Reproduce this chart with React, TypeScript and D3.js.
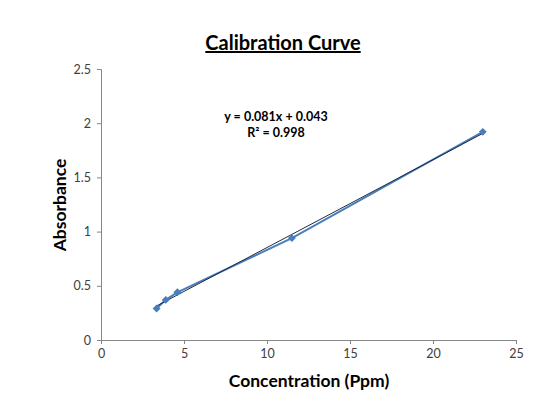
import React, { useEffect, useRef } from 'react';
import * as d3 from 'd3';

const concentration = [3.35, 3.9, 4.6, 11.5, 23.0];
const absorbance = [0.29, 0.37, 0.44, 0.94, 1.92];
const xTicks = [0, 5, 10, 15, 20, 25];
const yTicks = [0, 0.5, 1, 1.5, 2, 2.5];
const slope = 0.081;
const intercept = 0.043;

const App: React.FC = () => {
  const ref = useRef<SVGSVGElement>(null);

  useEffect(() => {
    if (!ref.current) return;
    const svg = d3.select(ref.current);
    svg.selectAll('*').remove();

    const left = 101;
    const right = 516;
    const top = 69;
    const bottom = 340;
    const font = 'Lato, "Open Sans", sans-serif';

    const x = d3.scaleLinear().domain([0, 25]).range([left, right]);
    const y = d3.scaleLinear().domain([0, 2.5]).range([bottom, top]);

    svg.append('rect').attr('width', 560).attr('height', 420).attr('fill', '#fff');

    const yAxis = svg
      .append('g')
      .attr('transform', `translate(${left},0)`)
      .call(d3.axisLeft(y).tickValues(yTicks).tickSize(4).tickPadding(6).tickFormat(d3.format('')));
    const xAxis = svg
      .append('g')
      .attr('transform', `translate(0,${bottom})`)
      .call(d3.axisBottom(x).tickValues(xTicks).tickSize(4).tickPadding(5).tickFormat(d3.format('')));

    [xAxis, yAxis].forEach((g) => {
      g.select('.domain').attr('stroke', '#868686');
      g.selectAll('.tick line').attr('stroke', '#868686');
      g.selectAll('text').attr('fill', '#404040').style('font-size', '12.5px').style('font-family', font);
    });

    const pts = concentration.map((c, i) => [c, absorbance[i]] as [number, number]);

    svg
      .append('path')
      .datum(pts)
      .attr('fill', 'none')
      .attr('stroke', '#4A7EBB')
      .attr('stroke-width', 2)
      .attr(
        'd',
        d3
          .line<[number, number]>()
          .x((d) => x(d[0]))
          .y((d) => y(d[1]))
      );

    const ext = d3.extent(concentration) as [number, number];
    svg
      .append('line')
      .attr('x1', x(ext[0]))
      .attr('y1', y(slope * ext[0] + intercept))
      .attr('x2', x(ext[1]))
      .attr('y2', y(slope * ext[1] + intercept))
      .attr('stroke', '#1F2A44')
      .attr('stroke-width', 1);

    svg
      .selectAll('rect.pt')
      .data(pts)
      .enter()
      .append('rect')
      .attr('class', 'pt')
      .attr('x', -2.8)
      .attr('y', -2.8)
      .attr('width', 5.6)
      .attr('height', 5.6)
      .attr('transform', (d) => `translate(${x(d[0])},${y(d[1])}) rotate(45)`)
      .attr('fill', '#4A7EBB');

    svg
      .append('text')
      .attr('x', 283)
      .attr('y', 50)
      .attr('text-anchor', 'middle')
      .style('font-family', font)
      .style('font-size', '20px')
      .style('font-weight', 'bold')
      .style('text-decoration', 'underline')
      .attr('fill', '#000')
      .text('Calibration Curve');

    svg
      .append('text')
      .attr('x', 309)
      .attr('y', 387)
      .attr('text-anchor', 'middle')
      .style('font-family', font)
      .style('font-size', '17.5px')
      .style('font-weight', 'bold')
      .attr('fill', '#000')
      .text('Concentration (Ppm)');

    svg
      .append('text')
      .attr('transform', 'translate(66,205) rotate(-90)')
      .attr('text-anchor', 'middle')
      .style('font-family', font)
      .style('font-size', '17.5px')
      .style('font-weight', 'bold')
      .attr('fill', '#000')
      .text('Absorbance');

    const eq = svg
      .append('text')
      .attr('text-anchor', 'middle')
      .style('font-family', font)
      .style('font-size', '12.5px')
      .style('font-weight', 'bold')
      .attr('fill', '#000');
    eq.append('tspan').attr('x', 276).attr('y', 121).text(`y = ${slope}x + ${intercept}`);
    eq.append('tspan').attr('x', 276).attr('y', 137).text('R² = 0.998');
  }, []);

  return <svg ref={ref} width={560} height={420} style={{ display: 'block', margin: -8 }} />;
};

export default App;
